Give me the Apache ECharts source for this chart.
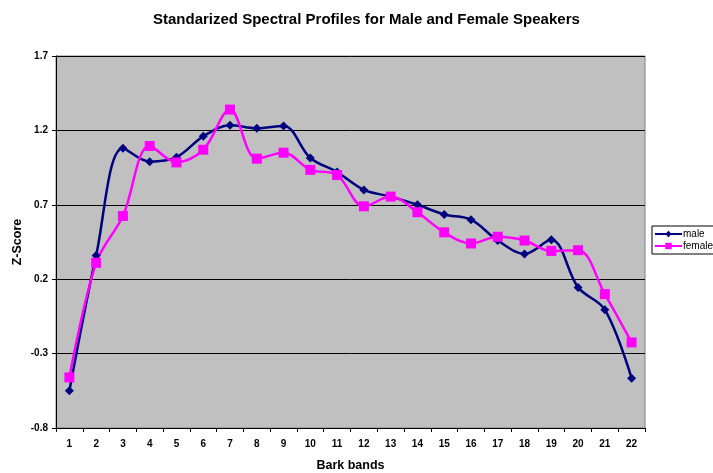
<!DOCTYPE html>
<html>
<head>
<meta charset="utf-8">
<script src="https://cdn.jsdelivr.net/npm/echarts@6/dist/echarts.min.js"></script>
<style>
  html, body { margin: 0; padding: 0; background: #fff; }
  #main { width: 713px; height: 473px; }
</style>
</head>
<body>
<div id="main"></div>
<script>
// bark bands 1..22
const bands = ['1', '2', '3', '4', '5', '6', '7', '8', '9', '10', '11',
  '12', '13', '14', '15', '16', '17', '18', '19', '20', '21', '22'];

const male = [-0.55, 0.36, 1.08, 0.99, 1.02, 1.16, 1.235, 1.215, 1.23, 1.015, 0.92,
  0.80, 0.755, 0.70, 0.635, 0.60, 0.46, 0.37, 0.465, 0.145, -0.005, -0.465];

const female = [-0.46, 0.31, 0.625, 1.095, 0.985, 1.07, 1.34, 1.01, 1.05, 0.935, 0.90,
  0.69, 0.755, 0.65, 0.515, 0.44, 0.485, 0.46, 0.39, 0.395, 0.10, -0.225];

const yTicks = [-0.8, -0.3, 0.2, 0.7, 1.2, 1.7];

const myChart = echarts.init(document.getElementById('main'));

const option = {
  animation: false,
  textStyle: { fontFamily: 'Liberation Sans, Arial, sans-serif' },
  title: {
    text: 'Standarized Spectral Profiles for Male and Female Speakers',
    left: 148,
    top: 7,
    textStyle: { fontSize: 15, fontWeight: 'bold', color: '#000' }
  },
  legend: {
    orient: 'vertical',
    left: 652,
    top: 226,
    padding: [3, 4, 3, 2],
    itemGap: 2,
    itemWidth: 27,
    itemHeight: 8,
    borderColor: '#000',
    borderWidth: 1,
    borderRadius: 0,
    textStyle: { fontSize: 10, color: '#000', padding: [0, 0, 0, -4] },
    data: ['male', 'female']
  },
  grid: {
    left: 56,
    top: 56,
    right: 68,
    bottom: 45,
    outerBoundsMode: 'none',
    containLabel: false,
    show: true,
    backgroundColor: '#c0c0c0',
    borderColor: '#808080',
    borderWidth: 1
  },
  xAxis: {
    type: 'category',
    data: bands,
    boundaryGap: true,
    name: 'Bark bands',
    nameLocation: 'middle',
    nameGap: 31,
    nameMoveOverlap: false,
    nameTextStyle: { fontSize: 12.5, fontWeight: 'bold', color: '#000' },
    axisLine: { onZero: false, lineStyle: { color: '#000', width: 1 } },
    axisTick: { show: true, length: 4, lineStyle: { color: '#000' } },
    axisLabel: { fontSize: 10, fontWeight: 'bold', color: '#000', margin: 11 }
  },
  yAxis: {
    type: 'value',
    min: -0.8,
    max: 1.7,
    name: 'Z-Score',
    nameLocation: 'middle',
    nameGap: 32,
    nameMoveOverlap: false,
    nameTextStyle: { fontSize: 12.5, fontWeight: 'bold', color: '#000' },
    axisLine: { show: true, lineStyle: { color: '#000', width: 1 } },
    axisTick: { show: true, length: 4, customValues: yTicks, lineStyle: { color: '#000' } },
    axisLabel: {
      fontSize: 10, fontWeight: 'bold', color: '#000', margin: 8,
      customValues: yTicks,
      formatter: v => v.toFixed(1)
    },
    splitLine: { show: true, lineStyle: { color: '#000', width: 1 } }
  },
  series: [
    {
      name: 'male',
      type: 'line',
      data: male,
      smooth: 0.35,
      symbol: 'diamond',
      symbolSize: 9,
      itemStyle: { color: '#000080' },
      lineStyle: { color: '#000080', width: 2.5 }
    },
    {
      name: 'female',
      type: 'line',
      data: female,
      smooth: 0.35,
      symbol: 'rect',
      symbolSize: 10,
      itemStyle: { color: '#ff00ff' },
      lineStyle: { color: '#ff00ff', width: 2.5 }
    }
  ]
};

myChart.setOption(option);
</script>
</body>
</html>
